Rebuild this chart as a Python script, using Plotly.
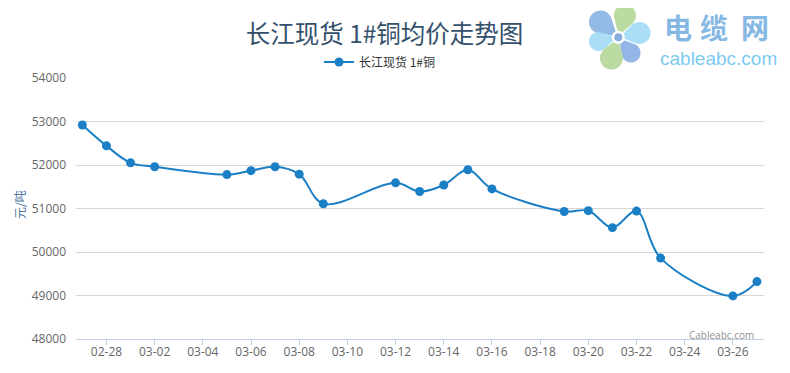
import math
import plotly.graph_objects as go

# ---- data ----
dates = ["2014-02-27", "2014-02-28", "2014-03-01", "2014-03-02", "2014-03-05",
         "2014-03-06", "2014-03-07", "2014-03-08", "2014-03-09", "2014-03-12",
         "2014-03-13", "2014-03-14", "2014-03-15", "2014-03-16", "2014-03-19",
         "2014-03-20", "2014-03-21", "2014-03-22", "2014-03-23", "2014-03-26",
         "2014-03-27"]
prices = [52920, 52440, 52050, 51960, 51780, 51870, 51960, 51790, 51110, 51590,
          51390, 51540, 51890, 51450, 50930, 50950, 50560, 50940, 49860, 48990,
          49320]
series_name = "长江现货 1#铜"
title_text = "长江现货 1#铜均价走势图"
y_title = "元/吨"
y_ticks = [48000, 49000, 50000, 51000, 52000, 53000, 54000]
y_tick_labels = [str(v) for v in y_ticks]

# The page body has an 8px default margin; work in page pixels and compensate.
OFF = 8
W, H = 790 - 2 * OFF, 373 - 2 * OFF
L, R, T, B = 76, 764, 78, 339   # plot area in page pixels

def px(x):
    return (x - L) / (R - L)

def py(y):
    return (B - y) / (B - T)

CJK = "Noto Sans CJK SC"
NUM = "Open Sans"

fig = go.Figure()
fig.add_trace(go.Scatter(
    x=dates, y=prices, name=series_name, mode="lines+markers",
    line=dict(color="#1b7fc6", width=2, shape="spline", smoothing=1.0),
    marker=dict(color="#1b7fc6", size=9),
))

# ---- decorative logo (flower of teardrop petals) ----
shapes = []
cx, cy = 618.3, 37.3
petals = [  # centre of round end (x, y), radius, colour
    (600.5, 22.0, 11.5, "#8ab4e2"),
    (625.0, 15.5, 11.0, "#b5d89a"),
    (639.5, 33.0, 11.0, "#a3daf5"),
    (631.0, 53.0, 9.5, "#8ab0e4"),
    (611.5, 58.0, 11.5, "#b5d89a"),
    (598.5, 41.5, 9.5, "#a3daf5"),
]
for tx, ty, r, col in petals:
    dx, dy = tx - cx, ty - cy
    d = math.hypot(dx, dy)
    ang = math.atan2(dy, dx)
    a0 = 1.5
    ax_, ay_ = cx + a0 * dx / d, cy + a0 * dy / d
    D = d - a0
    beta = math.asin(min(0.95, r / D))
    span = math.pi / 2 + beta
    pts = [f"{px(ax_):.5f},{py(ay_):.5f}"]
    n = 36
    for k in range(n + 1):
        t = ang - span + 2 * span * k / n
        X, Y = tx + r * math.cos(t), ty + r * math.sin(t)
        pts.append(f"{px(X):.5f},{py(Y):.5f}")
    shapes.append(dict(type="path", xref="paper", yref="paper",
                       path="M" + " L".join(pts) + " Z",
                       fillcolor=col, line=dict(width=0), opacity=0.92, layer="above"))
shapes.append(dict(type="circle", xref="paper", yref="paper",
                   x0=px(cx - 6.5), x1=px(cx + 6.5), y0=py(cy + 6.5), y1=py(cy - 6.5),
                   fillcolor="white", line=dict(width=0), layer="above"))
shapes.append(dict(type="circle", xref="paper", yref="paper",
                   x0=px(cx - 4), x1=px(cx + 4), y0=py(cy + 4), y1=py(cy - 4),
                   fillcolor="#8aaee0", line=dict(width=0), layer="above"))

annotations = [
    dict(text=y_title, textangle=-90, xref="paper", yref="paper",
         x=px(19), y=py(205), xanchor="center", yanchor="middle", showarrow=False,
         font=dict(family=CJK, size=12, color="#4d759e")),
    dict(text="Cableabc.com", xref="paper", yref="paper", x=px(756), y=py(335),
         xanchor="right", yanchor="middle", showarrow=False,
         font=dict(family=NUM, size=10, color="#909090")),
    dict(text="cableabc.com", xref="paper", yref="paper", x=px(718), y=py(58),
         xanchor="center", yanchor="middle", showarrow=False,
         font=dict(family="Liberation Sans", size=19, color="#7ccaf0")),
]
for ch, xc in zip("电缆网", [677.5, 713.5, 755]):
    annotations.append(dict(text="<b>" + ch + "</b>", xref="paper", yref="paper",
                            x=px(xc), y=py(27.3), xanchor="center", yanchor="middle",
                            showarrow=False,
                            font=dict(family=CJK, size=28, color="#86b8e4")))

fig.update_layout(
    width=W, height=H,
    margin=dict(l=L - OFF, r=W - (R - OFF), t=T - OFF, b=H - (B - OFF), pad=0,
                autoexpand=False),
    paper_bgcolor="white", plot_bgcolor="white",
    title=dict(text=title_text, x=(384.5 - OFF) / W, y=1 - (34 - OFF) / H,
               xanchor="center", yanchor="middle", xref="container", yref="container",
               font=dict(family=CJK, size=24.5, color="#35506b")),
    showlegend=True,
    legend=dict(orientation="h", xref="container", yref="container",
                x=(319 - OFF) / W, y=1 - (62 - OFF) / H, xanchor="left", yanchor="middle",
                font=dict(family=CJK, size=12, color="#333333"),
                bgcolor="rgba(0,0,0,0)", itemwidth=30),
    xaxis=dict(type="date", range=["2014-02-26 17:40", "2014-03-27 07:00"],
               tick0="2014-02-28", dtick=2 * 86400000, tickformat="%m-%d",
               showgrid=False, showline=True, linecolor="#c0d0e0", linewidth=1,
               ticks="outside", ticklen=5, tickcolor="#c0d0e0", ticklabelstandoff=-3,
               tickfont=dict(family=NUM, size=12, color="#666666"), zeroline=False),
    yaxis=dict(range=[48000, 54000], tickvals=y_ticks, ticktext=y_tick_labels,
               showgrid=True, gridcolor="#d8d8d8", gridwidth=1, zeroline=False,
               showline=False, ticks="", ticklabelstandoff=9,
               tickfont=dict(family=NUM, size=12, color="#666666")),
    shapes=shapes, annotations=annotations,
)

fig.write_html("out.html")
